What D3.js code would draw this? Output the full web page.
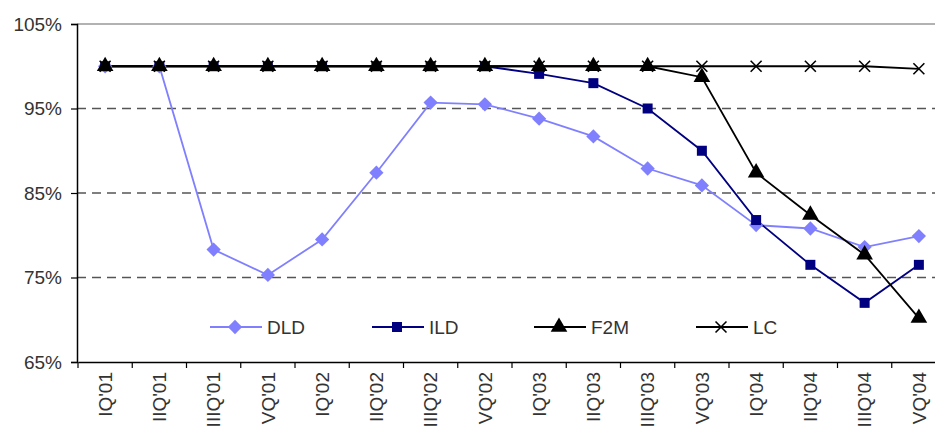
<!DOCTYPE html>
<html>
<head>
<meta charset="utf-8">
<script src="https://cdn.jsdelivr.net/npm/d3@7"></script>
<style>
  body { margin: 0; background: #fff; }
  svg { display: block; font-family: "Liberation Sans", Arial, sans-serif; }
</style>
</head>
<body>
<svg id="chart" width="935" height="434"></svg>
<script>
var quarters = ["IQ'01","IIQ'01","IIIQ'01","VQ'01","IQ'02","IIQ'02","IIIQ'02","VQ'02",
                "IQ'03","IIQ'03","IIIQ'03","VQ'03","IQ'04","IIQ'04","IIIQ'04","VQ'04"];
var dld = [100, 100, 78.3, 75.3, 79.5, 87.4, 95.7, 95.5, 93.8, 91.7, 87.9, 85.9, 81.2, 80.8, 78.6, 79.9];
var ild = [100, 100, 100, 100, 100, 100, 100, 100, 99.1, 98.0, 95.0, 90.0, 81.8, 76.5, 72.0, 76.5];
var f2m = [100, 100, 100, 100, 100, 100, 100, 100, 100, 100, 100, 98.7, 87.4, 82.4, 77.7, 70.2];
var lc  = [100, 100, 100, 100, 100, 100, 100, 100, 100, 100, 100, 100, 100, 100, 100, 99.7];
var yTicks = [65, 75, 85, 95, 105];

var svg = d3.select("#chart");
var fontSize = "19px";

var x = d3.scaleBand()
  .domain(quarters)
  .range([78, 946]);

var y = d3.scaleLinear()
  .domain([65, 105])
  .range([362, 24]);

function cx(d, i) { return x(quarters[i]) + x.bandwidth() / 2; }

// top border + gridlines
svg.append("line")
  .attr("x1", 77).attr("x2", 935)
  .attr("y1", y(105)).attr("y2", y(105))
  .attr("stroke", "#999").attr("stroke-width", 1.5);

svg.append("g")
  .selectAll("line")
  .data([75, 85, 95])
  .enter().append("line")
  .attr("x1", 77).attr("x2", 935)
  .attr("y1", function (d) { return y(d); })
  .attr("y2", function (d) { return y(d); })
  .attr("stroke", "#555")
  .attr("stroke-width", 1.3)
  .attr("stroke-dasharray", "9,6");

// y axis
var yAxis = svg.append("g")
  .attr("transform", "translate(77,0)")
  .call(d3.axisLeft(y).tickValues(yTicks).tickSize(6).tickPadding(9)
    .tickFormat(function (d) { return d + "%"; }));
yAxis.select(".domain").attr("stroke", "#000").attr("stroke-width", 1.5);
yAxis.selectAll(".tick line").attr("stroke", "#000").attr("stroke-width", 1.2);
yAxis.selectAll("text")
  .attr("fill", "#333")
  .style("font-size", fontSize)
  .style("font-family", "'Liberation Sans', Arial, sans-serif");

// x axis
var xAxis = svg.append("g")
  .attr("transform", "translate(0,362)")
  .call(d3.axisBottom(x).tickSize(0).tickSizeOuter(0));
xAxis.select(".domain").attr("stroke", "#000").attr("stroke-width", 1.5);
xAxis.selectAll("text")
  .attr("fill", "#333")
  .style("font-size", fontSize)
  .style("font-family", "'Liberation Sans', Arial, sans-serif")
  .attr("transform", "rotate(-90)")
  .attr("text-anchor", "end")
  .attr("x", -10)
  .attr("y", 0)
  .attr("dy", "0.36em");

// boundary ticks between categories
svg.append("g")
  .selectAll("line")
  .data(quarters)
  .enter().append("line")
  .attr("x1", function (d) { return x(d); })
  .attr("x2", function (d) { return x(d); })
  .attr("y1", 362).attr("y2", 368)
  .attr("stroke", "#000").attr("stroke-width", 1.2);

var line = d3.line()
  .x(cx)
  .y(function (d) { return y(d); });

var series = [
  {name: "DLD", values: dld, color: "#8080ff", sym: d3.symbolDiamond2, size: 130},
  {name: "ILD", values: ild, color: "#000080", sym: d3.symbolSquare, size: 100},
  {name: "F2M", values: f2m, color: "#000000", sym: d3.symbolTriangle, size: 120},
  {name: "LC",  values: lc,  color: "#000000", sym: d3.symbolTimes, size: 80}
];

series.forEach(function (s) {
  svg.append("path")
    .datum(s.values)
    .attr("fill", "none")
    .attr("stroke", s.color)
    .attr("stroke-width", 1.8)
    .attr("d", line);
});

series.forEach(function (s) {
  var stroked = s.sym === d3.symbolTimes;
  svg.append("g")
    .selectAll("path")
    .data(s.values)
    .enter().append("path")
    .attr("transform", function (d, i) { return "translate(" + cx(d, i) + "," + y(d) + ")"; })
    .attr("d", d3.symbol().type(s.sym).size(s.size))
    .attr("fill", stroked ? "none" : s.color)
    .attr("stroke", stroked ? s.color : "none")
    .attr("stroke-width", 1.6);
});

// legend
var legend = svg.append("g")
  .selectAll("g")
  .data(series)
  .enter().append("g")
  .attr("transform", function (d, i) { return "translate(" + (210 + i * 162) + ",327)"; });

legend.append("line")
  .attr("x1", 0).attr("x2", 52)
  .attr("stroke", function (d) { return d.color; })
  .attr("stroke-width", 1.8);

legend.append("path")
  .attr("transform", "translate(25,0)")
  .attr("d", function (d) { return d3.symbol().type(d.sym).size(d.size)(); })
  .attr("fill", function (d) { return d.sym === d3.symbolTimes ? "none" : d.color; })
  .attr("stroke", function (d) { return d.sym === d3.symbolTimes ? d.color : "none"; })
  .attr("stroke-width", 1.6);

legend.append("text")
  .attr("x", 57)
  .attr("dy", "0.36em")
  .attr("fill", "#333")
  .style("font-size", fontSize)
  .text(function (d) { return d.name; });
</script>
</body>
</html>
